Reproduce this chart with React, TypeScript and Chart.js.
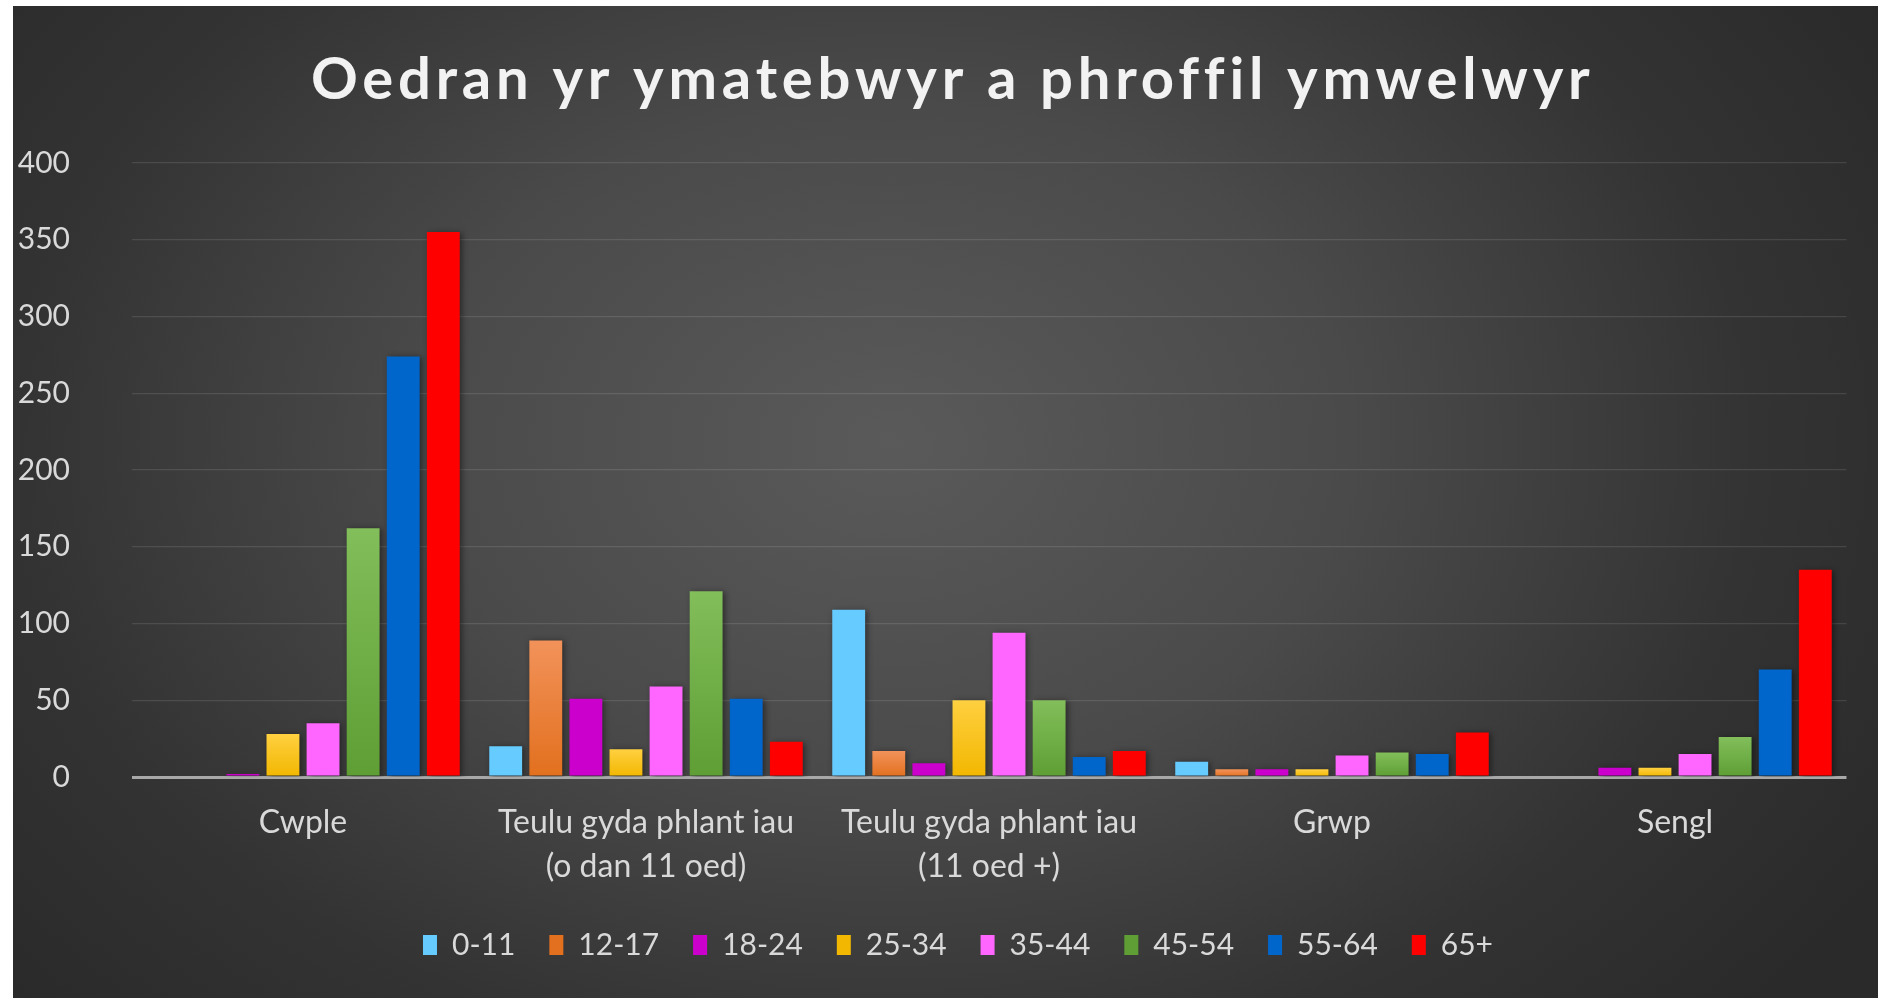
import React, { useEffect, useRef } from 'react';
import { Chart, registerables } from 'chart.js';

Chart.register(...registerables);

// ---------- data ----------
const TITLE = 'Oedran yr ymatebwyr a phroffil ymwelwyr';
const CATEGORIES: (string | string[])[] = [
  'Cwple',
  ['Teulu gyda phlant iau', '(o dan 11 oed)'],
  ['Teulu gyda phlant iau', '(11 oed +)'],
  'Grwp',
  'Sengl',
];
const SERIES_NAMES = ['0-11', '12-17', '18-24', '25-34', '35-44', '45-54', '55-64', '65+'];
const AGE_0_11 = [0, 20, 109, 10, 0];
const AGE_12_17 = [0, 89, 17, 5, 1];
const AGE_18_24 = [2, 51, 9, 5, 6];
const AGE_25_34 = [28, 18, 50, 5, 6];
const AGE_35_44 = [35, 59, 94, 14, 15];
const AGE_45_54 = [162, 121, 50, 16, 26];
const AGE_55_64 = [274, 51, 13, 15, 70];
const AGE_65_PLUS = [355, 23, 17, 29, 135];
const Y_MIN = 0;
const Y_MAX = 400;
const Y_STEP = 50;

// ---------- styles ----------
const FONT = 'Lato, "Open Sans", sans-serif';
const TEXT_COLOR = '#d9d9d9';
const Y_FONT_SIZE = 30;
const Y_LABEL_RIGHT = 57; // canvas x of the right edge of the y tick labels
const Y_AXIS_RIGHT = 118.5; // canvas x of the plot's left edge
const LAYOUT_LEFT = 56.5;
// [top colour, bottom colour]
const SERIES_COLORS: [string, string][] = [
  ['#66CCFF', '#66CCFF'],
  ['#F2925A', '#E2701E'],
  ['#CC00CC', '#CC00CC'],
  ['#FFD040', '#F2B700'],
  ['#FF66FF', '#FF66FF'],
  ['#82BE5A', '#5E9E34'],
  ['#0066CC', '#0066CC'],
  ['#FF0000', '#FF0000'],
];

const gradientFill = (top: string, bottom: string) => (c: any) => {
  if (top === bottom || c.type !== 'data') return bottom;
  const chart = c.chart;
  const ys = chart.scales && chart.scales.y;
  if (!ys || !chart.chartArea) return bottom;
  const v = c.parsed ? c.parsed.y : c.raw;
  const y0 = ys.getPixelForValue(v);
  const y1 = ys.getPixelForValue(0);
  if (!isFinite(y0) || !isFinite(y1) || Math.abs(y1 - y0) < 1) return bottom;
  const g = chart.ctx.createLinearGradient(0, y0, 0, y1);
  g.addColorStop(0, top);
  g.addColorStop(1, bottom);
  return g;
};

const titlePlugin = {
  id: 'spacedTitle',
  afterDraw(chart: any) {
    const ctx = chart.ctx;
    const targetWidth = 1276;
    const centerX = 936;
    ctx.save();
    ctx.font = `bold 58px ${FONT}`;
    ctx.fillStyle = '#f2f2f2';
    ctx.textAlign = 'left';
    ctx.textBaseline = 'alphabetic';
    const base = ctx.measureText(TITLE).width;
    const spacing = (targetWidth - base) / (TITLE.length - 1);
    (ctx as any).letterSpacing = `${spacing}px`;
    ctx.fillText(TITLE, centerX - targetWidth / 2, 93);
    ctx.restore();
  },
};

const shadowPlugin = {
  id: 'barShadow',
  beforeDatasetsDraw(chart: any) {
    const ctx = chart.ctx;
    ctx.save();
    ctx.shadowColor = 'rgba(0,0,0,0.45)';
    ctx.shadowBlur = 6;
    ctx.shadowOffsetX = 2;
    ctx.shadowOffsetY = 1;
  },
  afterDatasetsDraw(chart: any) {
    chart.ctx.restore();
  },
};

export default function App() {
  const canvasRef = useRef<HTMLCanvasElement | null>(null);

  useEffect(() => {
    if (!canvasRef.current) return;
    const mctx = canvasRef.current.getContext('2d')!;
    mctx.font = `${Y_FONT_SIZE}px ${FONT}`;
    const widest = mctx.measureText(String(Y_MAX)).width;
    const yPad = Y_LABEL_RIGHT - Y_AXIS_RIGHT - widest;

    const seriesValues = [AGE_0_11, AGE_12_17, AGE_18_24, AGE_25_34, AGE_35_44, AGE_45_54, AGE_55_64, AGE_65_PLUS];
    const chart = new Chart(canvasRef.current, {
      type: 'bar',
      data: {
        labels: CATEGORIES as any,
        datasets: SERIES_NAMES.map((name, i) => ({
          label: name,
          data: seriesValues[i],
          backgroundColor: gradientFill(SERIES_COLORS[i][0], SERIES_COLORS[i][1]),
          borderWidth: 0,
          borderColor: 'rgba(0,0,0,0)',
          categoryPercentage: 0.935,
          barPercentage: 0.82,
        })),
      },
      plugins: [shadowPlugin, titlePlugin],
      options: {
        responsive: false,
        animation: false,
        devicePixelRatio: 1,
        layout: { padding: { top: 157, left: LAYOUT_LEFT, right: 31.5, bottom: 28 } },
        plugins: {
          title: { display: false },
          tooltip: { enabled: false },
          legend: {
            position: 'bottom',
            labels: {
              color: TEXT_COLOR,
              font: { family: FONT, size: 30 },
              boxWidth: 14,
              boxHeight: 20,
              padding: 34,
            },
          },
        },
        scales: {
          x: {
            grid: { display: false, drawTicks: false },
            border: { display: false },
            ticks: {
              color: TEXT_COLOR,
              font: { family: FONT, size: 32, lineHeight: 1.375 },
              padding: 24,
              maxRotation: 0,
              autoSkip: false,
            },
            afterFit: (s: any) => {
              s.height = 119;
            },
          },
          y: {
            min: Y_MIN,
            max: Y_MAX,
            grid: {
              drawTicks: false,
              color: (c: any) => (c.tick && c.tick.value === 0 ? '#a8a8a8' : 'rgba(255,255,255,0.11)'),
              lineWidth: (c: any) => (c.tick && c.tick.value === 0 ? 3 : 1.3),
            },
            border: { display: false },
            ticks: {
              stepSize: Y_STEP,
              color: TEXT_COLOR,
              font: { family: FONT, size: Y_FONT_SIZE },
              mirror: true,
              crossAlign: 'far',
              padding: yPad,
            },
            afterFit: (s: any) => {
              s.width = Y_AXIS_RIGHT - LAYOUT_LEFT;
            },
          },
        },
      },
    });
    return () => chart.destroy();
  }, []);

  return (
    <div
      style={{
        position: 'fixed',
        left: 13,
        top: 6,
        width: 1865,
        height: 992,
        background:
          'radial-gradient(ellipse 62% 85% at 47% 44%, #5a5a5a 0%, #4a4a4a 40%, #333333 75%, #2a2a2a 100%)',
      }}
    >
      <canvas ref={canvasRef} width={1865} height={992} style={{ display: 'block' }} />
    </div>
  );
}
